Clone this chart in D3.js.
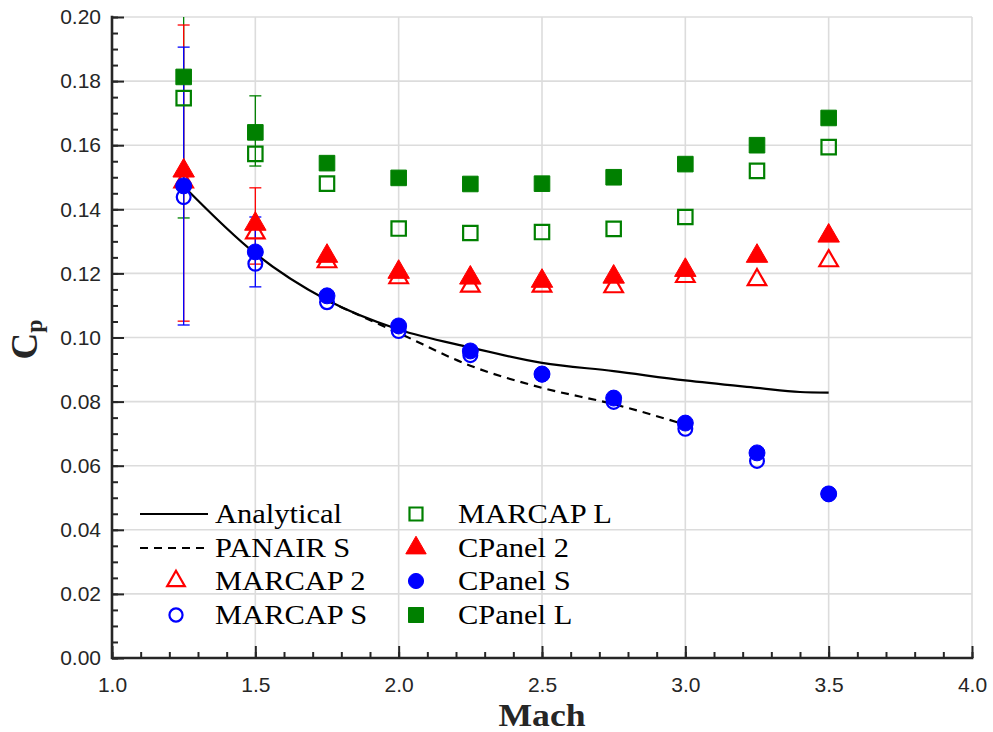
<!DOCTYPE html>
<html>
<head>
<meta charset="utf-8">
<script src="https://cdn.jsdelivr.net/npm/d3@7"></script>
<style>
  html, body { margin: 0; padding: 0; background: #fff; }
  svg { display: block; }
</style>
</head>
<body>
<svg id="chart" width="993" height="732"></svg>
<script>
// Pressure coefficient vs Mach number
const mach = [1.25, 1.5, 1.75, 2.0, 2.25, 2.5, 2.75, 3.0, 3.25, 3.5];

const marcap2 = [0.1485, 0.1326, 0.1236, 0.1186, 0.1160, 0.1160, 0.1158, 0.1190, 0.1180, 0.1239];
const marcapS = [0.1438, 0.1230, 0.1110, 0.1020, 0.0945, 0.0884, 0.0799, 0.0715, 0.0615, 0.0512];
const marcapL = [0.1747, 0.1573, 0.1480, 0.1340, 0.1326, 0.1329, 0.1339, 0.1376, 0.1520, 0.1594];
const cpanel2 = [0.1520, 0.1354, 0.1254, 0.1204, 0.1186, 0.1176, 0.1189, 0.1210, 0.1254, 0.1317];
const cpanelS = [0.1473, 0.1267, 0.1130, 0.1036, 0.0958, 0.0886, 0.0811, 0.0733, 0.0640, 0.0512];
const cpanelL = [0.1813, 0.1640, 0.1544, 0.1498, 0.1479, 0.1480, 0.1500, 0.1541, 0.1600, 0.1685];

const analyticalMach = [1.25, 1.5, 1.75, 2.0, 2.25, 2.5, 2.75, 3.0, 3.25, 3.4, 3.5];
const analyticalCp   = [0.1472, 0.1262, 0.1117, 0.1025, 0.0969, 0.0921, 0.0895, 0.0866, 0.0843, 0.0830, 0.0828];

const panairMach = [1.75, 2.0, 2.25, 2.5, 2.75, 3.0];
const panairCp   = [0.1115, 0.1014, 0.0912, 0.0843, 0.0792, 0.0728];

// Error bars (CPanel results)
const errMach = [1.25, 1.5];
const errLowL  = [0.1373, 0.1535];
const errHighL = [0.2250, 0.1754];
const errLow2  = [0.1051, 0.1229];
const errHigh2 = [0.1975, 0.1467];
const errLowS  = [0.1039, 0.1158];
const errHighS = [0.1906, 0.1376];

const xTicks = [1.0, 1.5, 2.0, 2.5, 3.0, 3.5, 4.0];
const yTicks = [0.00, 0.02, 0.04, 0.06, 0.08, 0.10, 0.12, 0.14, 0.16, 0.18, 0.20];

const GREEN = "#008000", RED = "#ff0000", BLUE = "#0000ff";
const AXIS = "#262626";
const SERIF = "Liberation Serif, Times New Roman, serif";
const SANS = "Liberation Sans, Arial, sans-serif";

const svg = d3.select("#chart");
const mLeft = 112, mRight = 972, mTop = 17, mBottom = 658;

const x = d3.scaleLinear().domain([1.0, 4.0]).range([mLeft, mRight]);
const y = d3.scaleLinear().domain([0.0, 0.20]).range([mBottom, mTop]);

svg.append("defs").append("clipPath").attr("id", "plotclip")
  .append("rect").attr("x", mLeft).attr("y", mTop)
  .attr("width", mRight - mLeft).attr("height", mBottom - mTop);

// Grid
const grid = svg.append("g");
grid.selectAll("line.gx").data(xTicks).join("line")
  .attr("x1", d => x(d)).attr("x2", d => x(d))
  .attr("y1", mTop).attr("y2", mBottom)
  .attr("stroke", "#dcdcdc").attr("stroke-width", 1.6);
grid.selectAll("line.gy").data(yTicks).join("line")
  .attr("x1", mLeft).attr("x2", mRight)
  .attr("y1", d => y(d)).attr("y2", d => y(d))
  .attr("stroke", "#dcdcdc").attr("stroke-width", 1.6);

// Axes with inward ticks
const xMinor = d3.range(10, 41).map(v => v / 10);
const yMinor = d3.range(0, 41).map(v => v * 0.005);

const xAxisG = svg.append("g").attr("transform", `translate(0,${mBottom})`);
xAxisG.call(d3.axisBottom(x).tickValues(xMinor).tickSize(-6).tickFormat(""))
  .call(g => g.select(".domain").remove());
xAxisG.append("g").call(d3.axisBottom(x).tickValues(xTicks).tickSize(-12).tickPadding(19)
  .tickFormat(d3.format(".1f")))
  .call(g => g.select(".domain").remove())
  .call(g => g.selectAll("text").attr("font-family", SANS)
    .attr("font-size", 21).attr("fill", AXIS));
xAxisG.selectAll(".tick line").attr("stroke", AXIS).attr("stroke-width", 2);

const yAxisG = svg.append("g").attr("transform", `translate(${mLeft},0)`);
yAxisG.call(d3.axisLeft(y).tickValues(yMinor).tickSize(-6).tickFormat(""))
  .call(g => g.select(".domain").remove());
yAxisG.append("g").call(d3.axisLeft(y).tickValues(yTicks).tickSize(-12).tickPadding(11)
  .tickFormat(d3.format(".2f")))
  .call(g => g.select(".domain").remove())
  .call(g => g.selectAll("text").attr("font-family", SANS)
    .attr("font-size", 21).attr("fill", AXIS));
yAxisG.selectAll(".tick line").attr("stroke", AXIS).attr("stroke-width", 2);

// Axis spines
svg.append("path")
  .attr("d", `M${mLeft},${mTop}V${mBottom}H${mRight}`)
  .attr("fill", "none").attr("stroke", AXIS).attr("stroke-width", 2.6)
  .attr("stroke-linecap", "square");

// Axis titles
svg.append("text")
  .attr("transform", `translate(${x(2.5)},726) scale(1.15,1)`)
  .attr("text-anchor", "middle")
  .attr("font-family", SERIF)
  .attr("font-weight", "bold").attr("font-size", 31).attr("fill", AXIS)
  .text("Mach");

const yt = svg.append("text")
  .attr("transform", `translate(37,${y(0.10) + 2}) rotate(-90)`)
  .attr("text-anchor", "middle")
  .attr("font-family", SERIF)
  .attr("font-weight", "bold").attr("fill", AXIS);
yt.append("tspan").attr("font-size", 37).text("C");
yt.append("tspan").attr("font-size", 24).attr("dy", 5).text("p");

// Plot content
const plot = svg.append("g").attr("clip-path", "url(#plotclip)");

// Error bars
function errorBars(lo, hi, color) {
  const g = plot.append("g").attr("stroke", color).attr("stroke-width", 1.3);
  errMach.forEach((m, i) => {
    g.append("line").attr("x1", x(m)).attr("x2", x(m))
      .attr("y1", y(lo[i])).attr("y2", y(hi[i]));
    [lo[i], hi[i]].forEach(v => {
      g.append("line").attr("x1", x(m) - 6).attr("x2", x(m) + 6)
        .attr("y1", y(v)).attr("y2", y(v));
    });
  });
}
errorBars(errLowL, errHighL, GREEN);
errorBars(errLow2, errHigh2, RED);
errorBars(errLowS, errHighS, BLUE);

// Lines
const line = d3.line().x(d => x(d[0])).y(d => y(d[1])).curve(d3.curveMonotoneX);
plot.append("path")
  .attr("d", line(d3.zip(analyticalMach, analyticalCp)))
  .attr("fill", "none").attr("stroke", "#000").attr("stroke-width", 2.2);
plot.append("path")
  .attr("d", line(d3.zip(panairMach, panairCp)))
  .attr("fill", "none").attr("stroke", "#000").attr("stroke-width", 2.2)
  .attr("stroke-dasharray", "8,6");

// Markers
const symTri = d3.symbol().type(d3.symbolTriangle);
const symCirc = d3.symbol().type(d3.symbolCircle);
function markerPath(kind, filled, big) {
  if (kind === "tri") return symTri.size(filled ? big : big * 0.75)();
  if (kind === "circle") return symCirc.size(filled ? big : big * 0.75)();
  const s = filled ? 7.8 : 7.2;
  return `M${-s},${-s}H${s}V${s}H${-s}Z`;
}
function markers(vals, kind, color, filled) {
  plot.append("g").selectAll(null).data(d3.zip(mach, vals)).join("path")
    .attr("transform", d => `translate(${x(d[0])},${y(d[1])})`)
    .attr("d", markerPath(kind, filled, 200))
    .attr("fill", filled ? color : "none")
    .attr("stroke", color)
    .attr("stroke-width", filled ? 1 : 2.2);
}
markers(marcap2, "tri", RED, false);
markers(marcapS, "circle", BLUE, false);
markers(marcapL, "square", GREEN, false);
markers(cpanel2, "tri", RED, true);
markers(cpanelS, "circle", BLUE, true);
markers(cpanelL, "square", GREEN, true);

// Legend
const legendCol1 = [
  { label: "Analytical", kind: "line" },
  { label: "PANAIR S", kind: "dash" },
  { label: "MARCAP 2", kind: "tri", color: RED, filled: false },
  { label: "MARCAP S", kind: "circle", color: BLUE, filled: false }
];
const legendCol2 = [
  { label: "MARCAP L", kind: "square", color: GREEN, filled: false },
  { label: "CPanel 2", kind: "tri", color: RED, filled: true },
  { label: "CPanel S", kind: "circle", color: BLUE, filled: true },
  { label: "CPanel L", kind: "square", color: GREEN, filled: true }
];
const rowY = [514, 548, 581, 615];
const legend = svg.append("g");
function legendColumn(items, markerX, textX) {
  items.forEach((it, i) => {
    const yy = rowY[i];
    if (it.kind === "line" || it.kind === "dash") {
      legend.append("line").attr("x1", 140).attr("x2", 208)
        .attr("y1", yy).attr("y2", yy)
        .attr("stroke", "#000").attr("stroke-width", 2.2)
        .attr("stroke-dasharray", it.kind === "dash" ? "8,6" : null);
    } else {
      legend.append("path")
        .attr("transform", `translate(${markerX},${yy})`)
        .attr("d", it.kind === "square"
          ? (s => `M${-s},${-s}H${s}V${s}H${-s}Z`)(it.filled ? 7.5 : 6.5)
          : markerPath(it.kind, it.filled, 180))
        .attr("fill", it.filled ? it.color : "none")
        .attr("stroke", it.color)
        .attr("stroke-width", it.filled ? 1 : 2.2);
    }
    legend.append("text")
      .attr("transform", `translate(${textX},${yy + 9}) scale(1.13,1)`)
      .attr("font-family", SERIF)
      .attr("font-size", 27).attr("fill", "#000")
      .text(it.label);
  });
}
legendColumn(legendCol1, 176, 215);
legendColumn(legendCol2, 416, 458);
</script>
</body>
</html>
